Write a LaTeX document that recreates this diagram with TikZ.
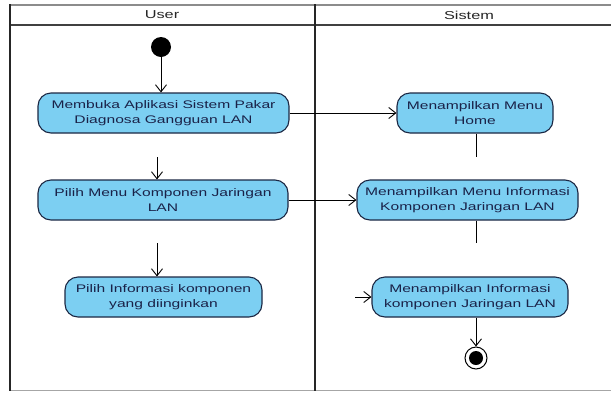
\documentclass[tikz,border=0pt]{standalone}
\usepackage{fontspec}
\usetikzlibrary{arrows.meta}
\newfontfamily\diagfont[FakeStretch=1.42]{Liberation Sans}
\definecolor{actfill}{HTML}{7CCFF2}
\definecolor{actline}{HTML}{1C2844}
\definecolor{acttext}{HTML}{1A2248}
\tikzset{
  act/.style={draw=actline, fill=actfill, rounded corners=13pt, line width=1.1pt,
    minimum height=40pt, inner sep=0pt, align=center, text=acttext,
    font=\diagfont\fontsize{11}{15}\selectfont},
  flow/.style={-{Straight Barb[length=7pt,width=11pt]}, line width=0.9pt, black},
  plain/.style={line width=0.9pt, black},
  lanetitle/.style={font=\diagfont\fontsize{11.5}{13}\selectfont, text=black!85, inner sep=0pt}
}
\begin{document}
\begin{tikzpicture}[x=1pt,y=-1pt]
\useasboundingbox (0,0) rectangle (611,392);
\fill[white] (0,0) rectangle (611,392);

% swimlane frame
\draw[line width=2pt, black!45] (10,5) -- (611,5);
\draw[line width=1.3pt, black!75] (10,25) -- (611,25);
\draw[line width=1pt, black!35] (10,390) -- (611,390);
\draw[line width=1.6pt, black!85] (10,4) -- (10,391);
\draw[line width=1.6pt, black!85] (315,4) -- (315,391);
\node[lanetitle] (lane1) at (162,15) {User};
\node[lanetitle] (lane2) at (469,15) {Sistem};

% initial and final states
\node[circle, fill=black, minimum size=20pt, inner sep=0pt] (start) at (161,47) {};
\node[circle, draw=black, line width=1pt, minimum size=22pt, inner sep=0pt] (stop) at (476,358) {};
\node[circle, fill=black, minimum size=14pt, inner sep=0pt] (stopdot) at (stop) {};

% activities
\node[act, minimum width=251pt] (n1) at (163.5,113) {Membuka Aplikasi Sistem Pakar\\Diagnosa Gangguan LAN};
\node[act, minimum width=250pt] (n2) at (163,200) {Pilih Menu Komponen Jaringan\\LAN};
\node[act, minimum width=197pt] (n3) at (163.5,297) {Pilih Informasi komponen\\yang diinginkan};
\node[act, minimum width=156pt] (n4) at (475,113) {Menampilkan Menu\\Home};
\node[act, minimum width=221pt] (n5) at (467.5,200) {Menampilkan Menu Informasi\\Komponen Jaringan LAN};
\node[act, minimum width=196pt] (n6) at (470,297) {Menampilkan Informasi\\komponen Jaringan LAN};

% free ends of the short flow stubs
\coordinate (c12) at (157,157);
\coordinate (c23) at (157,243);
\coordinate (c6) at (355,297);
\coordinate (e4) at (476,157);
\coordinate (e5) at (476,243);

% flows
\draw[flow] (start) -- (start |- n1.north);
\draw[flow] (c12) -- (c12 |- n2.north);
\draw[flow] (c23) -- (c23 |- n3.north);
\draw[flow] (n1.east) -- (n4.west);
\draw[flow] (n2.east) -- (n5.west);
\draw[plain] (e4 |- n4.south) -- (e4);
\draw[plain] (e5 |- n5.south) -- (e5);
\draw[flow] (c6) -- (n6.west);
\draw[flow] (stop |- n6.south) -- (stop.north);
\end{tikzpicture}
\end{document}
